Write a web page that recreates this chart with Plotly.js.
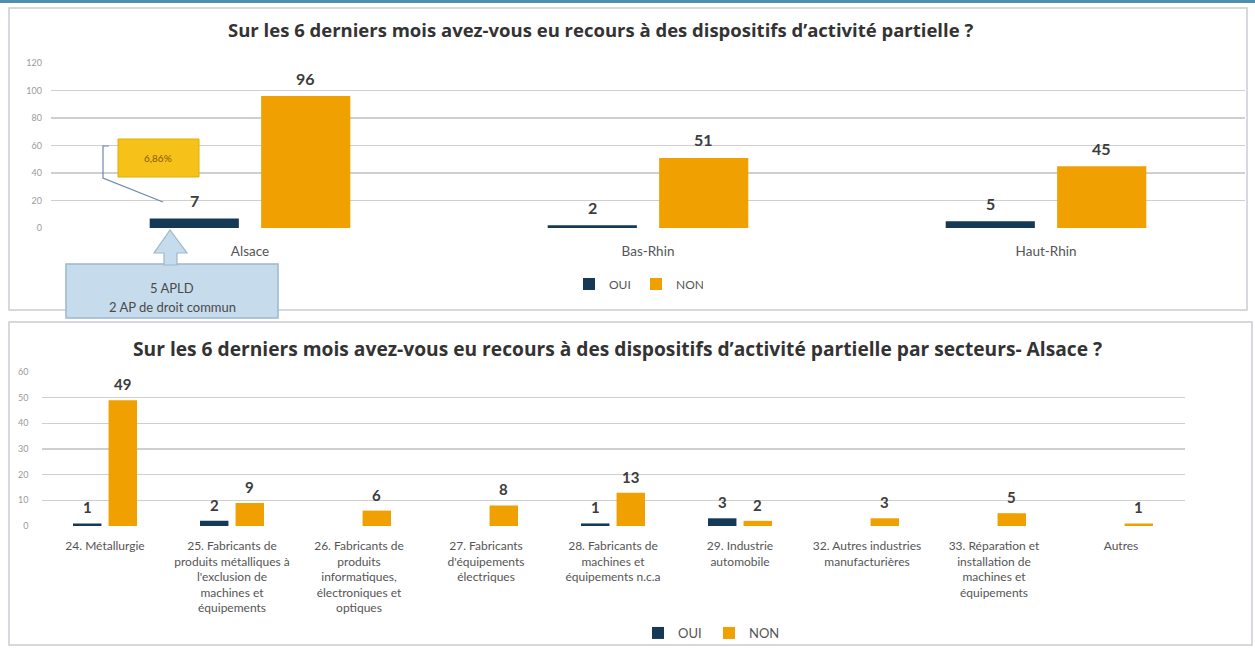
<!DOCTYPE html>
<html>
<head>
<meta charset="utf-8">
<script src="https://cdn.plot.ly/plotly-3.0.1.min.js"></script>
<style>html,body{margin:0;padding:0;background:#fff;}#chart{width:1255px;height:648px;}</style>
</head>
<body>
<div id="chart"></div>
<script>
// ---- data ----
const regions = ['Alsace', 'Bas-Rhin', 'Haut-Rhin'];
const ouiRegion = [7, 2, 5];
const nonRegion = [96, 51, 45];

const sectors = [
  '24. Métallurgie',
  '25. Fabricants de<br>produits métalliques à<br>l\'exclusion de<br>machines et<br>équipements',
  '26. Fabricants de<br>produits<br>informatiques,<br>électroniques et<br>optiques',
  '27. Fabricants<br>d\'équipements<br>électriques',
  '28. Fabricants de<br>machines et<br>équipements n.c.a',
  '29. Industrie<br>automobile',
  '32. Autres industries<br>manufacturières',
  '33. Réparation et<br>installation de<br>machines et<br>équipements',
  'Autres'
];
const ouiSector = [1, 2, 0, 0, 1, 3, 0, 0, 0];
const nonSector = [49, 9, 6, 8, 13, 2, 3, 5, 1];

const seriesNames = ['OUI', 'NON'];
const topTicks = [0, 20, 40, 60, 80, 100, 120];
const bottomTicks = [0, 10, 20, 30, 40, 50, 60];

const title1 = 'Sur les 6 derniers mois avez-vous eu recours à des dispositifs d\u2019activité partielle ?';
const title2 = 'Sur les 6 derniers mois avez-vous eu recours à des dispositifs d\u2019activité partielle par secteurs- Alsace ?';
const calloutPct = '6,86%';
const calloutLines = ['5 APLD', '2 AP de droit commun'];

// ---- layout helpers ----
const W = 1255, H = 648;
const X = x => x / W;
const Y = y => 1 - y / H;
const FONT = 'Lato, "Open Sans", sans-serif';
const TFONT = '"Open Sans", Lato, sans-serif';
const C_OUI = '#163a55';
const C_NON = '#f0a000';
const BARGAP = 0.44, GROUPGAP = 0.2;

const topDom = {x: [51, 1245], y: [228, 63]};
const botDom = {x: [41.5, 1184.5], y: [526, 372]};

const traces = [
  {type: 'bar', name: seriesNames[0], x: regions, y: ouiRegion, marker: {color: C_OUI}, xaxis: 'x', yaxis: 'y', legend: 'legend', hoverinfo: 'none'},
  {type: 'bar', name: seriesNames[1], x: regions, y: nonRegion, marker: {color: C_NON}, xaxis: 'x', yaxis: 'y', legend: 'legend', hoverinfo: 'none'},
  {type: 'bar', name: seriesNames[0], x: sectors, y: ouiSector, marker: {color: C_OUI}, xaxis: 'x2', yaxis: 'y2', legend: 'legend2', hoverinfo: 'none'},
  {type: 'bar', name: seriesNames[1], x: sectors, y: nonSector, marker: {color: C_NON}, xaxis: 'x2', yaxis: 'y2', legend: 'legend2', hoverinfo: 'none'}
];

// value labels above bars
const annotations = [];
function addLabels(cats, vals, dom, sign, xr, yr, size, yshift) {
  const dx = (dom.x[1] - dom.x[0]) / cats.length;
  const off = dx * (1 - BARGAP) / 4;
  cats.forEach((c, i) => {
    if (vals[i] === 0) return;
    annotations.push({x: c, y: vals[i], xref: xr, yref: yr, text: String(vals[i]), showarrow: false,
      xshift: sign * off, yshift: yshift, yanchor: 'middle', xanchor: 'center',
      font: {family: FONT, size: size, color: '#3c3c3c', weight: 'bold'}});
  });
}
addLabels(regions, ouiRegion, topDom, -1, 'x', 'y', 16, 18);
addLabels(regions, nonRegion, topDom, 1, 'x', 'y', 16, 18);
addLabels(sectors, ouiSector, botDom, -1, 'x2', 'y2', 15, 16);
addLabels(sectors, nonSector, botDom, 1, 'x2', 'y2', 15, 16);

annotations.push(
  {x: X(600), y: Y(30), xref: 'paper', yref: 'paper', xanchor: 'center', yanchor: 'middle', text: '<b>' + title1 + '</b>', showarrow: false,
   font: {family: TFONT, size: 18.5, color: '#333'}},
  {x: X(617), y: Y(349), xref: 'paper', yref: 'paper', xanchor: 'center', yanchor: 'middle', text: '<b>' + title2 + '</b>', showarrow: false,
   font: {family: TFONT, size: 19.2, color: '#333'}},
  {x: X(158), y: Y(158), xref: 'paper', yref: 'paper', xanchor: 'center', yanchor: 'middle', text: calloutPct, showarrow: false,
   font: {family: FONT, size: 10, color: '#8a5a00'}},
  {x: X(172), y: Y(288), xref: 'paper', yref: 'paper', xanchor: 'center', yanchor: 'middle', text: calloutLines[0], showarrow: false,
   font: {family: FONT, size: 13, color: '#4a4a4a'}},
  {x: X(172), y: Y(307), xref: 'paper', yref: 'paper', xanchor: 'center', yanchor: 'middle', text: calloutLines[1], showarrow: false,
   font: {family: FONT, size: 13, color: '#4a4a4a'}}
);

const shapes = [
  {type: 'rect', xref: 'paper', yref: 'paper', x0: 0, x1: 1, y0: Y(3), y1: Y(0), fillcolor: '#4f8fae', line: {width: 0}, layer: 'below'},
  {type: 'rect', xref: 'paper', yref: 'paper', x0: X(9), x1: X(1247), y0: Y(310), y1: Y(8), line: {color: '#c9cdd2', width: 1.5}, layer: 'below'},
  {type: 'rect', xref: 'paper', yref: 'paper', x0: X(9), x1: X(1252), y0: Y(645), y1: Y(322), line: {color: '#c9cdd2', width: 1.5}, layer: 'below'},
  {type: 'rect', xref: 'paper', yref: 'paper', x0: X(118), x1: X(199), y0: Y(177), y1: Y(139), fillcolor: '#f6c21a', line: {color: '#e0ae00', width: 1}},
  {type: 'path', xref: 'paper', yref: 'paper',
   path: `M${X(109)},${Y(146)} L${X(103)},${Y(146)} L${X(103)},${Y(178)} L${X(163)},${Y(202)}`,
   line: {color: '#7088b0', width: 1.2}},
  {type: 'rect', xref: 'paper', yref: 'paper', x0: X(66), x1: X(278), y0: Y(318), y1: Y(264), fillcolor: '#c6dcec', line: {color: '#9ab8d0', width: 1.5}},
  {type: 'path', xref: 'paper', yref: 'paper',
   path: `M${X(170)},${Y(230)} L${X(187)},${Y(253)} L${X(177)},${Y(253)} L${X(177)},${Y(265)} L${X(164)},${Y(265)} L${X(164)},${Y(253)} L${X(154)},${Y(253)} Z`,
   fillcolor: '#c6dcec', line: {color: '#9ab8d0', width: 1.2}}
];

const yAxisBase = {showgrid: true, gridcolor: '#cfcfcf', gridwidth: 1.5, zeroline: false, showline: false,
  ticks: '', tickfont: {family: FONT, size: 9, color: '#9a9a9a'}, fixedrange: true};
const xAxisBase = {showgrid: false, zeroline: false, showline: false, ticks: '', fixedrange: true, type: 'category'};

const layout = {
  width: W, height: H,
  margin: {l: 0, r: 0, t: 0, b: 0},
  paper_bgcolor: '#fff', plot_bgcolor: 'rgba(0,0,0,0)',
  barmode: 'group', bargap: BARGAP, bargroupgap: GROUPGAP,
  font: {family: FONT},
  xaxis: Object.assign({}, xAxisBase, {domain: [X(topDom.x[0]), X(topDom.x[1])], anchor: 'y',
    tickfont: {family: FONT, size: 13.5, color: '#555'}, ticklabelstandoff: 13}),
  yaxis: Object.assign({}, yAxisBase, {domain: [Y(topDom.y[0]), Y(topDom.y[1])], anchor: 'x',
    range: [0, 120], tickvals: topTicks, ticklabelstandoff: 8}),
  xaxis2: Object.assign({}, xAxisBase, {domain: [X(botDom.x[0]), X(botDom.x[1])], anchor: 'y2',
    tickfont: {family: FONT, size: 12, color: '#555'}, tickangle: 0, ticklabelstandoff: 11}),
  yaxis2: Object.assign({}, yAxisBase, {domain: [Y(botDom.y[0]), Y(botDom.y[1])], anchor: 'x2',
    range: [0, 60], tickvals: bottomTicks, ticklabelstandoff: 12}),
  legend: {orientation: 'h', x: X(569), y: Y(284), xanchor: 'left', yanchor: 'middle', entrywidth: 22,
    font: {family: FONT, size: 12, color: '#555'}, bgcolor: 'rgba(0,0,0,0)', itemwidth: 30, traceorder: 'normal'},
  legend2: {orientation: 'h', x: X(638), y: Y(633), xanchor: 'left', yanchor: 'middle', entrywidth: 26,
    font: {family: FONT, size: 13, color: '#555'}, bgcolor: 'rgba(0,0,0,0)', itemwidth: 30, traceorder: 'normal'},
  showlegend: true,
  annotations: annotations,
  shapes: shapes
};

Plotly.newPlot('chart', traces, layout, {displayModeBar: false, staticPlot: true});
</script>
</body>
</html>
